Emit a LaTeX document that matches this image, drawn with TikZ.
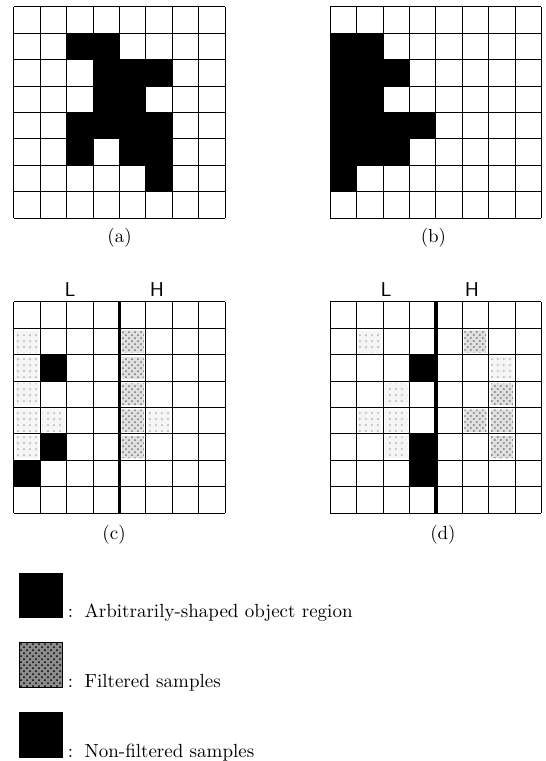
\documentclass[tikz,border=0pt]{standalone}
\usepackage{tikz}
\usetikzlibrary{positioning,calc,patterns}

\begin{document}
\begin{tikzpicture}[
    x=13.2pt, y=-13.2pt,
    cellgrid/.style={draw=black, line width=0.5pt, step=13.2pt},
    split/.style={draw=black, line width=1.8pt},
    objcell/.style={fill=black},
    keepcell/.style={fill=black},
    lowpass/.style={fill=black!4, postaction={pattern=dots, pattern color=black!30}},
    highpass/.style={fill=black!12, postaction={pattern=crosshatch dots, pattern color=black!55}},
    caption/.style={font=\fontsize{9.5}{11}\selectfont, inner sep=0pt},
    band/.style={font=\sffamily\fontsize{10}{12}\selectfont, inner sep=0pt},
    keybox/.style={draw=black, line width=0.5pt, minimum width=21.5pt, minimum height=22.5pt, inner sep=0pt},
    keytext/.style={font=\fontsize{9.5}{11}\selectfont, inner sep=0pt, anchor=base west}
]
\useasboundingbox (0,0) rectangle (20.68,28.83);

% (a) object in the original grid
\fill[objcell, shift={(0.53,0.26)}] (2,1) rectangle (4,2) (3,2) rectangle (6,3) (3,3) rectangle (5,4)
    (2,4) rectangle (6,5) (2,5) rectangle (3,6) (4,5) rectangle (6,6) (5,6) rectangle (6,7);
\draw[cellgrid, shift={(0.53,0.26)}] (0,0) grid (8,8);
\node[caption] (capa) at (4.53,9.0) {(a)};

% (b) object shifted to the left
\fill[objcell, shift={(12.51,0.26)}] (0,1) rectangle (2,2) (0,2) rectangle (3,3) (0,3) rectangle (2,4)
    (0,4) rectangle (4,5) (0,5) rectangle (3,6) (0,6) rectangle (1,7);
\draw[cellgrid, shift={(12.51,0.26)}] (0,0) grid (8,8);
\node[caption] (capb) at (16.42,9.0) {(b)};

% (c) horizontal decomposition
\fill[lowpass, shift={(0.53,11.44)}] (0.08,1.08) rectangle (0.92,1.92) (0.08,2.08) rectangle (0.92,2.92)
    (0.08,3.08) rectangle (0.92,3.92) (0.08,4.08) rectangle (0.92,4.92) (1.08,4.08) rectangle (1.92,4.92)
    (0.08,5.08) rectangle (0.92,5.92) (5.08,4.08) rectangle (5.92,4.92);
\fill[highpass, shift={(0.53,11.44)}] (4.08,1.08) rectangle (4.92,1.92) (4.08,2.08) rectangle (4.92,2.92)
    (4.08,3.08) rectangle (4.92,3.92) (4.08,4.08) rectangle (4.92,4.92) (4.08,5.08) rectangle (4.92,5.92);
\fill[keepcell, shift={(0.53,11.44)}] (1,2) rectangle (2,3) (1,5) rectangle (2,6) (0,6) rectangle (1,7);
\draw[cellgrid, shift={(0.53,11.44)}] (0,0) grid (8,8);
\draw[split, shift={(0.53,11.44)}] (4,-0.05) -- (4,8.05);
\node[band] (lc) at (2.65,10.98) {L};
\node[band] (hc) at (5.95,10.98) {H};
\node[caption] (capc) at (4.32,20.27) {(c)};

% (d) vertical decomposition
\fill[lowpass, shift={(12.51,11.44)}] (1.08,1.08) rectangle (1.92,1.92) (6.08,2.08) rectangle (6.92,2.92)
    (2.08,3.08) rectangle (2.92,3.92) (1.08,4.08) rectangle (1.92,4.92) (2.08,4.08) rectangle (2.92,4.92)
    (2.08,5.08) rectangle (2.92,5.92);
\fill[highpass, shift={(12.51,11.44)}] (5.08,1.08) rectangle (5.92,1.92) (6.08,3.08) rectangle (6.92,3.92)
    (5.08,4.08) rectangle (5.92,4.92) (6.08,4.08) rectangle (6.92,4.92) (6.08,5.08) rectangle (6.92,5.92);
\fill[keepcell, shift={(12.51,11.44)}] (3,2) rectangle (4,3) (3,5) rectangle (4,7);
\draw[cellgrid, shift={(12.51,11.44)}] (0,0) grid (8,8);
\draw[split, shift={(12.51,11.44)}] (4,-0.05) -- (4,8.05);
\node[band] (ld) at (14.62,10.98) {L};
\node[band] (hd) at (17.88,10.98) {H};
\node[caption] (capd) at (16.78,20.27) {(d)};

% legend
\node[keybox, fill=black] (objkey) at (1.57,22.56) {};
\node[keytext] (objtxt) at ($(objkey.south east)+(0.15,-0.04)$) {:\, Arbitrarily-shaped object region};
\node[keybox, fill=black!45, postaction={pattern=crosshatch dots, pattern color=black}] (filtkey) at (1.57,25.2) {};
\node[keytext] (filttxt) at ($(filtkey.south east)+(0.15,-0.04)$) {:\, Filtered samples};
\node[keybox, fill=black] (keepkey) at (1.57,27.85) {};
\node[keytext] (keeptxt) at ($(keepkey.south east)+(0.15,-0.04)$) {:\, Non-filtered samples};
\end{tikzpicture}
\end{document}
